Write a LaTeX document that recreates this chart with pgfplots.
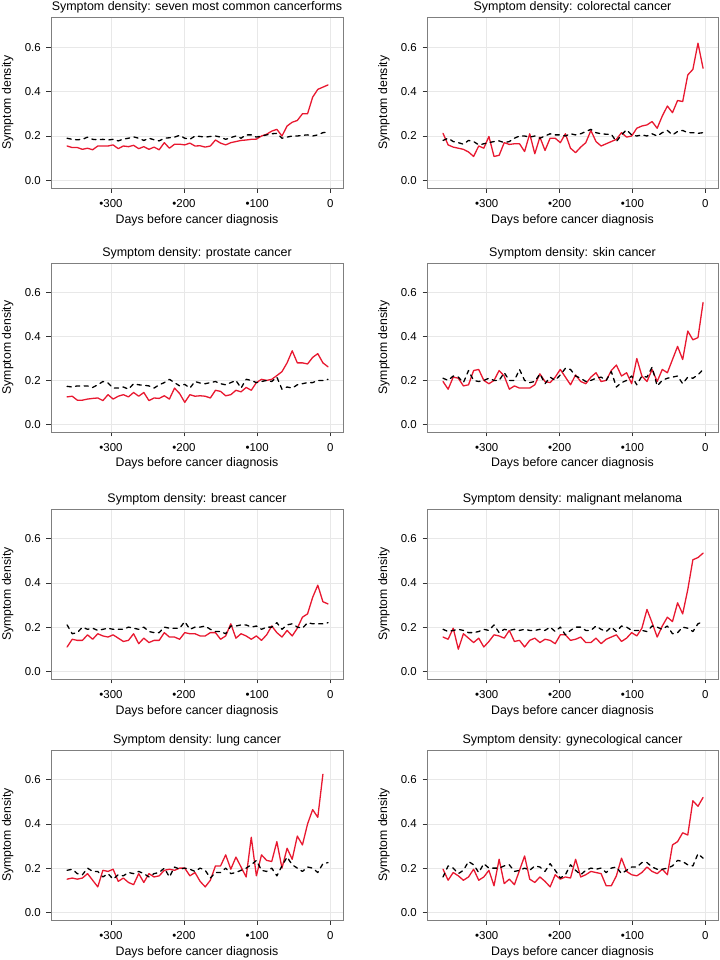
\documentclass[border=0pt]{standalone}
\usepackage{fontspec}
\setmainfont{Liberation Sans}
\usepackage{pgfplots}
\pgfplotsset{compat=1.18}
\usepackage{pgfplotstable}

\definecolor{myred}{RGB}{232,24,48}
\definecolor{bordc}{RGB}{127,127,127}
\definecolor{gridc}{RGB}{232,232,232}

\pgfplotstableread{
x Ar Ab Br Bb Cr Cb Dr Db Er Eb Fr Fb Gr Gb Hr Hb
-360 .155 .190 .212 .180 .125 .173 .195 .210 .110 .210 .155 .190 .150 .190 .195 .160
-353 .148 .185 .160 .190 .128 .170 .160 .200 .145 .170 .145 .180 .155 .195 .145 .210
-346 .148 .183 .150 .175 .110 .175 .215 .220 .140 .175 .195 .185 .150 .175 .180 .200
-339 .140 .185 .145 .170 .110 .175 .210 .215 .140 .200 .100 .190 .155 .170 .165 .175
-332 .145 .195 .140 .163 .115 .175 .175 .190 .165 .190 .170 .185 .175 .200 .145 .190
-325 .138 .185 .128 .180 .118 .168 .180 .245 .145 .195 .150 .175 .145 .185 .160 .230
-318 .155 .183 .108 .175 .120 .180 .245 .200 .170 .185 .130 .175 .115 .185 .195 .215
-311 .155 .185 .155 .160 .108 .195 .250 .195 .160 .190 .150 .180 .190 .160 .145 .180
-304 .155 .182 .145 .165 .135 .188 .200 .200 .155 .195 .110 .190 .185 .175 .160 .220
-297 .160 .185 .198 .170 .115 .165 .185 .210 .165 .190 .135 .185 .195 .150 .190 .200
-290 .143 .178 .108 .175 .128 .165 .200 .200 .150 .190 .165 .210 .140 .170 .120 .200
-283 .155 .186 .113 .178 .135 .170 .245 .200 .135 .190 .160 .175 .155 .165 .240 .200
-276 .152 .190 .170 .170 .125 .160 .220 .235 .140 .200 .150 .190 .135 .180 .130 .210
-269 .158 .196 .162 .175 .145 .185 .160 .200 .170 .195 .185 .185 .125 .175 .150 .215
-262 .143 .190 .165 .190 .128 .180 .175 .200 .125 .190 .135 .190 .175 .185 .125 .185
-255 .152 .180 .165 .200 .145 .178 .165 .250 .150 .200 .140 .185 .135 .175 .190 .190
-248 .140 .190 .130 .200 .108 .175 .165 .200 .130 .180 .110 .190 .175 .160 .255 .200
-241 .150 .183 .210 .195 .120 .165 .165 .190 .140 .175 .140 .185 .160 .175 .150 .190
-234 .138 .178 .120 .200 .118 .180 .180 .195 .140 .175 .150 .185 .165 .180 .135 .210
-227 .170 .190 .195 .190 .130 .190 .230 .230 .175 .200 .130 .190 .190 .200 .160 .205
-220 .145 .192 .135 .200 .115 .205 .195 .185 .155 .195 .145 .185 .195 .160 .140 .185
-213 .163 .195 .190 .210 .165 .190 .190 .215 .155 .195 .140 .200 .190 .205 .115 .220
-206 .163 .203 .190 .205 .140 .175 .215 .200 .145 .195 .125 .180 .200 .195 .170 .190
-199 .160 .190 .170 .205 .100 .182 .250 .225 .175 .225 .165 .200 .200 .200 .150 .155
-192 .168 .185 .210 .200 .135 .165 .215 .255 .170 .190 .165 .165 .165 .195 .160 .170
-185 .155 .200 .145 .210 .128 .195 .180 .250 .170 .200 .140 .185 .180 .185 .155 .215
-178 .156 .198 .125 .205 .130 .188 .225 .220 .160 .200 .145 .200 .140 .200 .240 .190
-171 .150 .195 .150 .210 .128 .185 .195 .210 .160 .205 .155 .200 .115 .190 .160 .170
-164 .155 .198 .170 .220 .120 .190 .185 .195 .175 .190 .130 .185 .145 .155 .170 .190
-157 .182 .200 .225 .230 .155 .195 .215 .200 .175 .180 .130 .185 .210 .180 .185 .200
-150 .168 .195 .175 .215 .150 .185 .235 .210 .145 .180 .150 .205 .210 .180 .180 .195
-143 .160 .185 .155 .210 .130 .180 .195 .215 .160 .170 .125 .190 .260 .200 .175 .200
-136 .170 .193 .165 .208 .135 .190 .200 .200 .215 .205 .145 .180 .195 .175 .120 .180
-129 .175 .200 .175 .208 .155 .200 .245 .240 .150 .205 .155 .200 .250 .180 .120 .200
-122 .180 .190 .185 .175 .148 .165 .270 .170 .170 .210 .165 .180 .205 .190 .165 .205
-115 .182 .205 .215 .205 .168 .205 .220 .190 .160 .210 .135 .205 .160 .200 .245 .175
-108 .185 .205 .195 .228 .155 .200 .235 .200 .145 .200 .150 .200 .340 .215 .185 .190
-101 .186 .195 .200 .205 .190 .190 .185 .220 .160 .205 .175 .185 .165 .235 .170 .205
-94 .200 .200 .235 .200 .205 .195 .300 .180 .140 .190 .160 .185 .260 .190 .165 .205
-87 .208 .205 .245 .205 .200 .200 .220 .220 .165 .200 .195 .185 .235 .185 .180 .225
-80 .222 .210 .250 .200 .205 .195 .195 .215 .205 .200 .280 .180 .230 .200 .205 .225
-73 .230 .212 .265 .210 .222 .215 .250 .260 .175 .220 .220 .205 .320 .165 .185 .205
-66 .200 .190 .235 .200 .240 .160 .195 .175 .155 .190 .155 .200 .200 .210 .175 .195
-59 .245 .195 .290 .215 .280 .170 .250 .200 .185 .210 .205 .190 .290 .250 .195 .195
-52 .262 .200 .335 .225 .335 .165 .235 .210 .160 .215 .245 .205 .240 .215 .170 .200
-45 .270 .200 .305 .205 .280 .180 .295 .215 .195 .200 .225 .170 .345 .200 .305 .210
-38 .300 .203 .360 .220 .280 .185 .355 .220 .245 .195 .310 .175 .305 .185 .320 .235
-31 .300 .205 .355 .225 .275 .190 .295 .185 .260 .220 .260 .200 .400 .205 .360 .230
-24 .375 .200 .475 .215 .305 .190 .425 .215 .335 .215 .370 .195 .465 .200 .350 .215
-17 .410 .205 .500 .215 .322 .200 .385 .210 .390 .215 .505 .180 .430 .180 .505 .210
-10 .420 .215 .618 .212 .280 .200 .395 .225 .315 .215 .515 .215 .625 .220 .480 .265
-3 .430 .218 .505 .215 .262 .205 .555 .250 .305 .220 .535 .225 nan .225 .520 .245
}\symdata

\pgfplotsset{
  panel/.style={
    width=292bp, height=170bp, scale only axis,
    xmin=-382, xmax=17.5, ymin=-0.035, ymax=0.735,
    xtick={-300,-200,-100,0}, xticklabels={•300,•200,•100,0},
    ytick={0,0.2,0.4,0.6}, yticklabels={0.0,0.2,0.4,0.6},
    grid=major, major grid style={line width=0.7bp, color=gridc},
    axis line style={line width=0.9bp, color=bordc},
    tick style={line width=0.8bp, color=black!80},
    tick align=outside, major tick length=4.5bp, tick pos=left,
    tick label style={font=\fontsize{11.5}{13}\selectfont, inner sep=0pt},
    xticklabel style={anchor=north, yshift=-6.5bp},
    yticklabel style={anchor=east, xshift=-5.5bp},
    xlabel={Days before cancer diagnosis}, ylabel={Symptom density},
    every axis x label/.style={at={(axis description cs:0.5,-0.206)}, anchor=base, inner sep=0pt, font=\fontsize{12.4}{14}\selectfont},
    every axis y label/.style={at={(axis description cs:-0.128,0.5)}, rotate=90, anchor=south, inner sep=0pt, font=\fontsize{12.3}{14}\selectfont},
    every axis title/.style={font=\fontsize{12.5}{14}\selectfont, at={(axis description cs:0.5,1.038)}, anchor=base, inner sep=0pt},
    clip=true,
  },
  redl/.style={color=myred, line width=1.3bp, line join=round, line cap=round, mark=none},
  blkl/.style={color=black, line width=1.3bp, dash pattern=on 4.2bp off 4.4bp, line cap=round, line join=round, mark=none},
}

\begin{document}
\begin{tikzpicture}
\useasboundingbox (0,0) rectangle (720bp,960bp);
% row 1
\begin{axis}[panel, anchor=south west, at={(51bp,771.8bp)}, height=171bp,
  title={Symptom density: seven most common cancerforms}]
\addplot[redl] table[x=x,y=Ar]{\symdata};
\addplot[blkl] table[x=x,y=Ab]{\symdata};
\end{axis}
\begin{axis}[panel, anchor=south west, at={(427bp,771.8bp)}, width=291bp, height=171bp,
  title={Symptom density: colorectal cancer}]
\addplot[redl] table[x=x,y=Br]{\symdata};
\addplot[blkl] table[x=x,y=Bb]{\symdata};
\end{axis}
% row 2
\begin{axis}[panel, anchor=south west, at={(51bp,528bp)}, height=169bp,
  title={Symptom density: prostate cancer}]
\addplot[redl] table[x=x,y=Cr]{\symdata};
\addplot[blkl] table[x=x,y=Cb]{\symdata};
\end{axis}
\begin{axis}[panel, anchor=south west, at={(427bp,528bp)}, width=291bp, height=169bp,
  title={Symptom density: skin cancer}]
\addplot[redl] table[x=x,y=Dr]{\symdata};
\addplot[blkl] table[x=x,y=Db]{\symdata};
\end{axis}
% row 3
\begin{axis}[panel, anchor=south west, at={(51bp,281bp)}, height=170bp,
  title={Symptom density: breast cancer}]
\addplot[redl] table[x=x,y=Er]{\symdata};
\addplot[blkl] table[x=x,y=Eb]{\symdata};
\end{axis}
\begin{axis}[panel, anchor=south west, at={(427bp,281bp)}, width=291bp, height=170bp,
  title={Symptom density: malignant melanoma}]
\addplot[redl] table[x=x,y=Fr]{\symdata};
\addplot[blkl] table[x=x,y=Fb]{\symdata};
\end{axis}
% row 4
\begin{axis}[panel, anchor=south west, at={(51bp,40bp)}, height=170bp,
  title={Symptom density: lung cancer}]
\addplot[redl] table[x=x,y=Gr]{\symdata};
\addplot[blkl] table[x=x,y=Gb]{\symdata};
\end{axis}
\begin{axis}[panel, anchor=south west, at={(427bp,40bp)}, width=291bp, height=170bp,
  title={Symptom density: gynecological cancer}]
\addplot[redl] table[x=x,y=Hr]{\symdata};
\addplot[blkl] table[x=x,y=Hb]{\symdata};
\end{axis}
\end{tikzpicture}
\end{document}
